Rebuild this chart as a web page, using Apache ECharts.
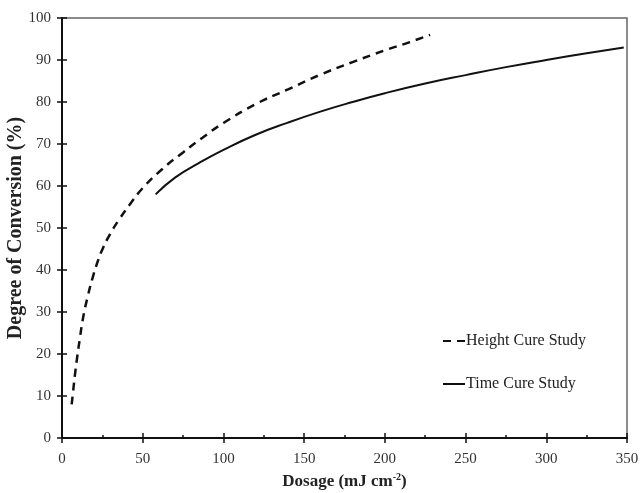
<!DOCTYPE html>
<html>
<head>
<meta charset="utf-8">
<script src="https://cdn.jsdelivr.net/npm/echarts@6/dist/echarts.min.js"></script>
<style>html,body{margin:0;padding:0;background:#fff}#c{width:642px;height:493px}</style>
</head>
<body>
<div id="c"></div>
<script>
// Height Cure Study (dashed)
const heightDose = [6, 7, 8, 9.5, 11, 13, 16, 19, 22, 25, 30, 35, 42, 50, 62, 75, 87, 100, 120, 140, 160, 180, 200, 215, 228];
const heightDC   = [8, 11.5, 15, 19.5, 23.5, 28.5, 33.8, 38.2, 41.9, 44.9, 48.7, 51.8, 55.6, 59.5, 64, 68, 71.5, 75, 79.5, 83, 86.5, 89.5, 92.3, 94.2, 96];
// Time Cure Study (solid)
const timeDose = [58, 70, 85, 100, 120, 140, 160, 180, 200, 225, 250, 275, 300, 325, 348];
const timeDC   = [58, 62, 65.5, 68.6, 72.2, 75.1, 77.7, 80, 82.1, 84.4, 86.4, 88.3, 90, 91.6, 93];
const seriesNames = ['Height Cure Study', 'Time Cure Study'];
const xTicks = {min: 0, max: 350, step: 50};
const yTicks = {min: 0, max: 100, step: 10};

const FONT = '"Liberation Serif", "Times New Roman", serif';
const pair = (xs, ys) => xs.map((x, i) => [x, ys[i]]);

const chart = echarts.init(document.getElementById('c'), null, {renderer: 'canvas'});
const baseX = {type: 'value', min: xTicks.min, max: xTicks.max, interval: xTicks.step, position: 'bottom', splitLine: {show: false}};
const baseY = {type: 'value', min: yTicks.min, max: yTicks.max, interval: yTicks.step, position: 'left', splitLine: {show: false}};
chart.setOption({
  animation: false,
  backgroundColor: '#fff',
  grid: {left: 62, right: 15, top: 18, bottom: 55, containLabel: false, outerBoundsMode: 'none',
         show: true, borderColor: '#666', borderWidth: 1.5, backgroundColor: 'transparent'},
  xAxis: [
    Object.assign({}, baseX, {
      axisLine: {show: true, lineStyle: {color: '#111', width: 2}},
      axisTick: {show: true, inside: false, length: 5, lineStyle: {color: '#111', width: 1.5}},
      axisLabel: {margin: 14, fontFamily: FONT, fontSize: 15, color: '#333'},
      name: '{a|Dosage (mJ cm}{s|-2}{a|)}',
      nameLocation: 'middle', nameGap: 34, nameMoveOverlap: false,
      nameTextStyle: {rich: {
        a: {fontFamily: FONT, fontWeight: 'bold', fontSize: 17, color: '#222', lineHeight: 20},
        s: {fontFamily: FONT, fontWeight: 'bold', fontSize: 10, color: '#222', verticalAlign: 'top', lineHeight: 20, padding: [0, 0, 8, 0]}
      }}
    }),
    Object.assign({}, baseX, {
      axisLine: {show: false},
      axisTick: {show: true, inside: true, length: 5, lineStyle: {color: '#111', width: 1.5}},
      minorTick: {show: true, splitNumber: 2, length: 3, lineStyle: {color: '#111', width: 1.5}},
      axisLabel: {show: false}
    })
  ],
  yAxis: [
    Object.assign({}, baseY, {
      axisLine: {show: true, lineStyle: {color: '#111', width: 2}},
      axisTick: {show: true, inside: false, length: 5, lineStyle: {color: '#111', width: 1.5}},
      axisLabel: {margin: 11, fontFamily: FONT, fontSize: 15, color: '#333'},
      name: 'Degree of Conversion (%)',
      nameLocation: 'middle', nameGap: 36, nameMoveOverlap: false,
      nameTextStyle: {fontFamily: FONT, fontWeight: 'bold', fontSize: 20, color: '#222'}
    }),
    Object.assign({}, baseY, {
      axisLine: {show: false},
      axisTick: {show: true, inside: true, length: 5, lineStyle: {color: '#111', width: 1.5}},
      axisLabel: {show: false}
    })
  ],
  legend: {
    orient: 'vertical', left: 437, top: 328, itemWidth: 22, itemHeight: 14, itemGap: 27,
    itemStyle: {opacity: 0},
    textStyle: {fontFamily: FONT, fontSize: 16, color: '#222', padding: [0, 0, 0, -4]},
    data: seriesNames
  },
  series: [
    {
      name: seriesNames[0], type: 'line', xAxisIndex: 0, yAxisIndex: 0,
      data: pair(heightDose, heightDC), smooth: 0.5, showSymbol: false, symbol: 'none',
      lineStyle: {color: '#111', width: 2.5, type: [8, 6]}, itemStyle: {color: '#111'}
    },
    {
      name: seriesNames[1], type: 'line', xAxisIndex: 0, yAxisIndex: 0,
      data: pair(timeDose, timeDC), smooth: 0.5, showSymbol: false, symbol: 'none',
      lineStyle: {color: '#111', width: 2}, itemStyle: {color: '#111'}
    }
  ]
});
</script>
</body>
</html>
